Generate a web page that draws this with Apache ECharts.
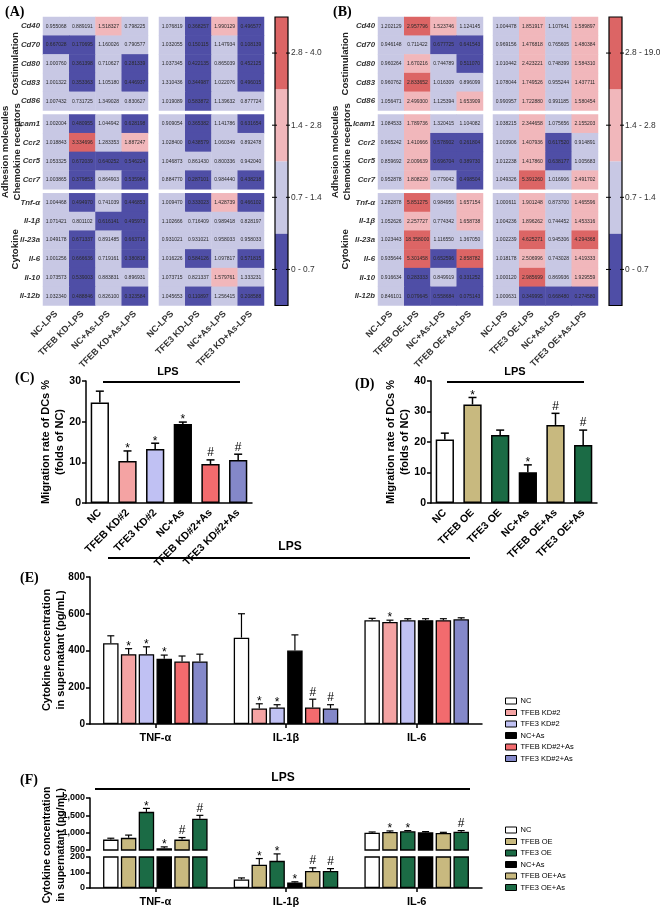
<!DOCTYPE html>
<html>
<head>
<meta charset="utf-8">
<script src="https://cdn.jsdelivr.net/npm/echarts@6/dist/echarts.min.js"></script>
<style>
html, body { margin: 0; padding: 0; background: #fff; }
#main { width: 660px; height: 922px; }
</style>
</head>
<body>
<div id="main"></div>
<script>
// heatmap rows and blocks
var geneRows = ['Cd40', 'Cd70', 'Cd80', 'Cd83', 'Cd86', 'Icam1', 'Ccr2', 'Ccr5', 'Ccr7',
    'Tnf-α', 'Il-1β', 'Il-23a', 'Il-6', 'Il-10', 'Il-12b'];
var geneBlocks = [5, 4, 6];
var blockNames = [['Costimulation'], ['Adhesion molecules', 'Chemokine receptors'], ['Cytokine']];

var colsTfebKd = ['NC-LPS', 'TFEB KD-LPS', 'NC+As-LPS', 'TFEB KD+As-LPS'];
var colsTfe3Kd = ['NC-LPS', 'TFE3 KD-LPS', 'NC+As-LPS', 'TFE3 KD+As-LPS'];
var colsTfebOe = ['NC-LPS', 'TFEB OE-LPS', 'NC+As-LPS', 'TFEB OE+As-LPS'];
var colsTfe3Oe = ['NC-LPS', 'TFE3 OE-LPS', 'NC+As-LPS', 'TFE3 OE+As-LPS'];

var heatTfebKd = [
    [0.955068, 0.889191, 1.518327, 0.798225],
    [0.667028, 0.170695, 1.160026, 0.790577],
    [1.000760, 0.361398, 0.710627, 0.281339],
    [1.001322, 0.353363, 1.105180, 0.446937],
    [1.007432, 0.731725, 1.349028, 0.830627],
    [1.002004, 0.480955, 1.044942, 0.628198],
    [1.018843, 3.334696, 1.283353, 1.887247],
    [1.053325, 0.672039, 0.640252, 0.546224],
    [1.003865, 0.379853, 0.864903, 0.535984],
    [1.004468, 0.494970, 0.741039, 0.446853],
    [1.071421, 0.801102, 0.616141, 0.495973],
    [1.049178, 0.671337, 0.891485, 0.663716],
    [1.001256, 0.666636, 0.719161, 0.380818],
    [1.073573, 0.539003, 0.883831, 0.896931],
    [1.032340, 0.488846, 0.826100, 0.323584]
];
var heatTfe3Kd = [
    [1.076819, 0.368257, 1.990129, 0.496577],
    [1.032055, 0.150115, 1.147934, 0.108139],
    [1.037345, 0.422135, 0.865039, 0.452125],
    [1.310436, 0.344987, 1.022076, 0.496015],
    [1.019089, 0.583872, 1.139632, 0.877724],
    [0.909054, 0.365382, 1.141786, 0.631654],
    [1.028400, 0.438579, 1.060349, 0.892478],
    [1.046873, 0.861430, 0.800336, 0.942040],
    [0.884770, 0.287101, 0.984440, 0.438218],
    [1.009470, 0.333023, 1.428739, 0.466102],
    [1.102666, 0.716409, 0.989418, 0.828197],
    [0.931021, 0.931021, 0.958033, 0.958033],
    [1.016226, 0.584126, 1.097817, 0.571815],
    [1.073715, 0.821337, 1.579761, 1.333231],
    [1.045653, 0.110897, 1.256415, 0.208588]
];
var heatTfebOe = [
    [1.202129, 2.957796, 1.523746, 1.124145],
    [0.946148, 0.711422, 0.677725, 0.641543],
    [0.960264, 1.670216, 0.744789, 0.511070],
    [0.960762, 2.833652, 1.016309, 0.896099],
    [1.056471, 2.499300, 1.125394, 1.653909],
    [1.084533, 1.789736, 1.320415, 1.104082],
    [0.965242, 1.410666, 0.578902, 0.261804],
    [0.859692, 2.009639, 0.696704, 0.389730],
    [0.952878, 1.808229, 0.779042, 0.498504],
    [1.282878, 5.851275, 0.984956, 1.657154],
    [1.052626, 2.257727, 0.774342, 1.658738],
    [1.023443, 18.358000, 1.116550, 1.367050],
    [0.935644, 5.301458, 0.652596, 2.858782],
    [0.916634, 0.283333, 0.849919, 0.331252],
    [0.846101, 0.079645, 0.558684, 0.075143]
];
var heatTfe3Oe = [
    [1.004478, 1.851917, 1.107641, 1.589897],
    [0.969156, 1.476818, 0.765605, 1.480384],
    [1.010442, 2.423221, 0.748399, 1.584310],
    [1.078044, 1.749526, 0.955244, 1.437711],
    [0.990957, 1.722880, 0.991185, 1.580454],
    [1.038215, 2.344658, 1.075656, 2.155203],
    [1.003906, 1.407936, 0.617520, 0.914891],
    [1.012238, 1.417860, 0.638177, 1.005683],
    [1.049326, 5.391260, 1.016906, 2.491702],
    [1.000611, 1.901248, 0.873700, 1.465596],
    [1.004236, 1.896262, 0.744452, 1.453316],
    [1.002239, 4.625271, 0.945306, 4.294368],
    [1.018178, 2.506996, 0.743028, 1.419333],
    [1.000120, 2.985699, 0.869936, 1.929559],
    [1.000631, 0.349995, 0.668480, 0.274580]
];
var binsKd = [0, 0.7, 1.4, 2.8, 4.0];
var binsOe = [0, 0.7, 1.4, 2.8, 19.0];
var binColors = ['#4f4ea6', '#c8c8e4', '#f1b7bb', '#dc6565'];

// migration (C, D)
var migKdCats = ['NC', 'TFEB KD#2', 'TFE3 KD#2', 'NC+As', 'TFEB KD#2+As', 'TFE3 KD#2+As'];
var migKdMean = [24.7, 10.3, 13.3, 19.4, 9.6, 10.6];
var migKdErr = [2.8, 2.5, 1.4, 0.5, 1.0, 1.4];
var migKdMarks = ['', '*', '*', '*', '#', '#'];
var kdColors = ['#ffffff', '#f4a3a3', '#c0c1f3', '#000000', '#f26b6e', '#8488c9'];

var migOeCats = ['NC', 'TFEB OE', 'TFE3 OE', 'NC+As', 'TFEB OE+As', 'TFE3 OE+As'];
var migOeMean = [20.8, 32.3, 22.3, 10.1, 25.6, 19.0];
var migOeErr = [2.1, 2.3, 1.6, 2.4, 3.8, 4.9];
var migOeMarks = ['', '*', '', '*', '#', '#'];
var oeColors = ['#ffffff', '#c8b97f', '#1b6b45', '#000000', '#c8b97f', '#1b6b45'];

// cytokines (E, F): one row per group, columns TNF-α, IL-1β, IL-6
var cytoCats = ['TNF-α', 'IL-1β', 'IL-6'];
var cytoKdMean = [[440, 470, 565], [380, 85, 555], [380, 90, 565], [355, 400, 565], [340, 90, 565], [340, 85, 570]];
var cytoKdErr = [[40, 130, 10], [30, 25, 10], [40, 15, 8], [20, 85, 8], [30, 45, 8], [40, 20, 8]];
var cytoKdMarks = [['', '', ''], ['*', '*', '*'], ['*', '*', ''], ['*', '', ''], ['', '#', ''], ['', '#', '']];

var cytoOeMean = [[800, 55, 1000], [850, 150, 1020], [1600, 175, 1040], [550, 35, 1010], [800, 110, 990], [1400, 110, 1030]];
var cytoOeErr = [[40, 10, 20], [80, 40, 30], [100, 45, 20], [40, 5, 20], [60, 20, 20], [100, 15, 30]];
var cytoOeMarks = [['', '', ''], ['', '*', '*'], ['*', '*', '*'], ['*', '*', ''], ['#', '#', ''], ['#', '#', '#']];

var FONT = '"Liberation Sans", Arial, sans-serif';
var SERIF = 'bold 14px "Liberation Serif", serif';
var chart = echarts.init(document.getElementById('main'));
var option = {
    animation: false,
    textStyle: { fontFamily: FONT },
    grid: [], xAxis: [], yAxis: [], series: [], visualMap: [], legend: [], graphic: []
};

function txt(x, y, s, font, opts) {
    opts = opts || {};
    option.graphic.push({
        type: 'text', x: x, y: y, rotation: opts.rot || 0, z: 50,
        style: { text: s, font: font, fill: opts.fill || '#000', align: opts.align || 'center', verticalAlign: opts.va || 'middle' }
    });
}
function line(x1, y1, x2, y2, w) {
    option.graphic.push({ type: 'line', z: 50, shape: { x1: x1, y1: y1, x2: x2, y2: y2 }, style: { stroke: '#000', lineWidth: w || 1 } });
}

// ---------- heatmaps ----------
var rowH = 18.7, blockGap = 4, heatTop = 17;
var blockTops = [];
(function () {
    var t = heatTop;
    geneBlocks.forEach(function (n) { blockTops.push(t); t += n * rowH + blockGap; });
})();
var heatBottom = blockTops[2] + geneBlocks[2] * rowH;

function addHeat(left, cols, vals, showRows, seriesList) {
    var start = 0;
    geneBlocks.forEach(function (cnt, b) {
        var gi = option.grid.length;
        option.grid.push({ left: left, top: blockTops[b], width: 105, height: cnt * rowH });
        option.xAxis.push({
            type: 'category', gridIndex: gi, data: cols,
            axisLine: { show: false }, axisTick: { show: false }, splitLine: { show: false },
            axisLabel: { show: b === geneBlocks.length - 1, rotate: 45, interval: 0, margin: 7,
                fontSize: 9, fontWeight: 'bold', color: '#333' }
        });
        option.yAxis.push({
            type: 'category', gridIndex: gi, inverse: true, data: geneRows.slice(start, start + cnt),
            axisLine: { show: false }, axisTick: { show: false }, splitLine: { show: false },
            axisLabel: { show: showRows, margin: 3, fontSize: 7.8, fontWeight: 'bold', fontStyle: 'italic', color: '#333' }
        });
        var data = [];
        for (var r = 0; r < cnt; r++) {
            for (var c = 0; c < cols.length; c++) data.push([c, r, vals[start + r][c]]);
        }
        seriesList.push(option.series.length);
        option.series.push({
            type: 'heatmap', xAxisIndex: gi, yAxisIndex: gi, data: data,
            label: { show: true, fontSize: 5, color: '#2a2a2a', formatter: function (p) { return p.value[2].toFixed(6); } },
            emphasis: { disabled: true }
        });
        start += cnt;
    });
}

function fmtBin(v) { return v === 0 ? '0' : v.toFixed(1); }
// colour key: pieces map values to colours, the key itself is drawn next to the heatmaps
function addScale(left, bins, seriesList) {
    var pieces = [];
    for (var i = 0; i < bins.length - 1; i++) {
        pieces.push({ min: bins[i], max: bins[i + 1], label: fmtBin(bins[i]) + ' - ' + fmtBin(bins[i + 1]), color: binColors[i] });
    }
    option.visualMap.push({ type: 'piecewise', show: false, seriesIndex: seriesList, pieces: pieces });
    var segH = (heatBottom - heatTop) / pieces.length;
    for (var k = 0; k < pieces.length; k++) {
        var y0 = heatBottom - segH * (k + 1);
        option.graphic.push({ type: 'rect', z: 40, shape: { x: left, y: y0, width: 13, height: segH },
            style: { fill: pieces[k].color, stroke: null } });
        var yy = y0 + segH / 2;
        line(left - 3, yy, left + 2, yy, 1);
        line(left + 11, yy, left + 15, yy, 1);
        txt(left + 16, yy, pieces[k].label, '8.4px ' + FONT, { align: 'left', fill: '#333' });
    }
    option.graphic.push({ type: 'rect', z: 45, shape: { x: left, y: heatTop, width: 13, height: heatBottom - heatTop },
        style: { fill: 'none', stroke: '#000', lineWidth: 1.2 } });
}

function addGroupLabels(x0) {
    geneBlocks.forEach(function (cnt, b) {
        var cy = blockTops[b] + cnt * rowH / 2;
        var names = blockNames[b];
        names.forEach(function (nm, k) {
            var x = names.length === 1 ? x0 + 15 : x0 + 5 + k * 12;
            txt(x, cy, nm, 'bold 9.5px ' + FONT, { rot: Math.PI / 2, fill: '#222' });
        });
    });
}

var vmKd = [], vmOe = [];
addHeat(43, colsTfebKd, heatTfebKd, true, vmKd);
addHeat(159, colsTfe3Kd, heatTfe3Kd, false, vmKd);
addHeat(378, colsTfebOe, heatTfebOe, true, vmOe);
addHeat(493, colsTfe3Oe, heatTfe3Oe, false, vmOe);
addScale(275, binsKd, vmKd);
addScale(609, binsOe, vmOe);
addGroupLabels(0);
addGroupLabels(330);
txt(5, 12, '(A)', SERIF, { align: 'left' });
txt(333, 12, '(B)', SERIF, { align: 'left' });

// ---------- simple bar panels ----------
function markOffset(m) { return m === '*' ? 5 : 0; }

function addMigration(left, width, cats, means, errs, marks, colors, ymax) {
    var gi = option.grid.length;
    option.grid.push({ left: left, top: 381, width: width, height: 122 });
    option.xAxis.push({
        type: 'category', gridIndex: gi, data: cats,
        axisLine: { lineStyle: { color: '#000', width: 1.5 } },
        axisTick: { alignWithLabel: true, length: 4, lineStyle: { color: '#000', width: 1.5 } },
        axisLabel: { rotate: 45, interval: 0, margin: 8, fontSize: 10.5, fontWeight: 'bold', color: '#000' }
    });
    option.yAxis.push({
        type: 'value', gridIndex: gi, min: 0, max: ymax, interval: 10,
        splitLine: { show: false },
        axisLine: { show: true, lineStyle: { color: '#000', width: 1.5 } },
        axisTick: { show: true, length: 4, lineStyle: { color: '#000', width: 1.5 } },
        axisLabel: { fontSize: 10.5, fontWeight: 'bold', color: '#000', margin: 5 }
    });
    option.series.push({
        type: 'bar', xAxisIndex: gi, yAxisIndex: gi, barCategoryGap: '34%',
        data: means.map(function (v, i) {
            return { value: v, itemStyle: { color: colors[i], borderColor: '#000', borderWidth: 1.5 } };
        })
    });
    option.series.push({
        type: 'custom', xAxisIndex: gi, yAxisIndex: gi, z: 5,
        data: means.map(function (v, i) { return [i, v]; }),
        renderItem: function (params, api) {
            var i = params.dataIndex;
            var b = api.coord([i, means[i]]), t = api.coord([i, means[i] + errs[i]]);
            var ch = [
                { type: 'line', shape: { x1: b[0], y1: b[1], x2: t[0], y2: t[1] }, style: { stroke: '#000', lineWidth: 1.5 } },
                { type: 'line', shape: { x1: t[0] - 4, y1: t[1], x2: t[0] + 4, y2: t[1] }, style: { stroke: '#000', lineWidth: 1.5 } }
            ];
            if (marks[i]) ch.push({ type: 'text', x: t[0], y: t[1] - 1 + markOffset(marks[i]),
                style: { text: marks[i], fill: '#000', font: '12px ' + FONT, align: 'center', verticalAlign: 'bottom' } });
            return { type: 'group', children: ch };
        }
    });
}

addMigration(86, 166, migKdCats, migKdMean, migKdErr, migKdMarks, kdColors, 30);
addMigration(431, 166, migOeCats, migOeMean, migOeErr, migOeMarks, oeColors, 40);
txt(15, 378, '(C)', SERIF, { align: 'left' });
txt(355, 384, '(D)', SERIF, { align: 'left' });
txt(46, 442, 'Migration rate of DCs %', 'bold 11px ' + FONT, { rot: Math.PI / 2 });
txt(60, 442, '(folds of NC)', 'bold 11px ' + FONT, { rot: Math.PI / 2 });
txt(391, 442, 'Migration rate of DCs %', 'bold 11px ' + FONT, { rot: Math.PI / 2 });
txt(405, 442, '(folds of NC)', 'bold 11px ' + FONT, { rot: Math.PI / 2 });
line(103, 382, 240, 382, 2); txt(168, 377, 'LPS', 'bold 11px ' + FONT, { va: 'bottom' });
line(447, 382, 584, 382, 2); txt(515, 377, 'LPS', 'bold 11px ' + FONT, { va: 'bottom' });

// ---------- grouped cytokine panels ----------
var catGap = 0.2, barGap = 0.15;

function groupErrSeries(gi, means, errs, marks, keep) {
    var n = means.length, data = [];
    for (var s = 0; s < n; s++) {
        for (var c = 0; c < cytoCats.length; c++) {
            if (keep(means[s][c])) data.push([c, means[s][c], s]);
        }
    }
    option.series.push({
        type: 'custom', xAxisIndex: gi, yAxisIndex: gi, z: 5, data: data,
        renderItem: function (params, api) {
            var d = data[params.dataIndex];
            var c = d[0], s = d[2], v = means[s][c], e = errs[s][c];
            var band = api.size([1, 0])[0];
            var bw = band * (1 - catGap) / (n + (n - 1) * barGap);
            var off = -band * (1 - catGap) / 2 + bw / 2 + s * bw * (1 + barGap);
            var b = api.coord([c, v]), t = api.coord([c, v + e]);
            var x = b[0] + off;
            var ch = [
                { type: 'line', shape: { x1: x, y1: b[1], x2: x, y2: t[1] }, style: { stroke: '#000', lineWidth: 1.2 } },
                { type: 'line', shape: { x1: x - 3.5, y1: t[1], x2: x + 3.5, y2: t[1] }, style: { stroke: '#000', lineWidth: 1.2 } }
            ];
            var m = marks[s][c];
            if (m) ch.push({ type: 'text', x: x, y: t[1] - 1 + markOffset(m),
                style: { text: m, fill: '#000', font: '12px ' + FONT, align: 'center', verticalAlign: 'bottom' } });
            return { type: 'group', children: ch };
        }
    });
}

function addCytoGrid(top, height, ymin, ymax, interval, showX, names, means, colors, labelSize) {
    var gi = option.grid.length;
    option.grid.push({ left: 90, top: top, width: 392, height: height });
    option.xAxis.push({
        type: 'category', gridIndex: gi, data: cytoCats,
        axisLine: { show: showX, lineStyle: { color: '#000', width: 1.5 } },
        axisTick: { show: showX, alignWithLabel: true, length: 4, lineStyle: { color: '#000', width: 1.5 } },
        axisLabel: { show: showX, fontSize: 11, fontWeight: 'bold', color: '#000', margin: 8 }
    });
    option.yAxis.push({
        type: 'value', gridIndex: gi, min: ymin, max: ymax, interval: interval,
        splitLine: { show: false },
        axisLine: { show: true, lineStyle: { color: '#000', width: 1.5 } },
        axisTick: { show: true, length: 4, lineStyle: { color: '#000', width: 1.5 } },
        axisLabel: { fontSize: labelSize, fontWeight: 'bold', color: '#000', margin: 5 }
    });
    for (var s = 0; s < names.length; s++) {
        option.series.push({
            type: 'bar', name: names[s], xAxisIndex: gi, yAxisIndex: gi,
            barCategoryGap: (catGap * 100) + '%', barGap: (barGap * 100) + '%',
            itemStyle: { color: colors[s], borderColor: '#000', borderWidth: 1.3 },
            data: means[s]
        });
    }
    return gi;
}

// E
var gE = addCytoGrid(577, 147, 0, 800, 200, true, migKdCats, cytoKdMean, kdColors, 10);
groupErrSeries(gE, cytoKdMean, cytoKdErr, cytoKdMarks, function () { return true; });
// F (broken axis)
var lowMax = 200;
var gFu = addCytoGrid(798, 52, 500, 2000, 500, false, migOeCats, cytoOeMean, oeColors, 9);
groupErrSeries(gFu, cytoOeMean, cytoOeErr, cytoOeMarks, function (v) { return v > lowMax; });
var gFl = addCytoGrid(857, 31, 0, lowMax, 100, true, migOeCats, cytoOeMean, oeColors, 9);
groupErrSeries(gFl, cytoOeMean, cytoOeErr, cytoOeMarks, function (v) { return v <= lowMax; });

function addLegend(top, names) {
    option.legend.push({
        data: names, orient: 'vertical', left: 505, top: top, padding: 0,
        itemWidth: 11, itemHeight: 6, itemGap: 3.5, icon: 'rect', selectedMode: false,
        itemStyle: { borderColor: '#000', borderWidth: 1 },
        textStyle: { fontSize: 7.5, color: '#000', padding: [0, 0, 0, -1] }
    });
}
addLegend(697, migKdCats);
addLegend(826, migOeCats);

txt(20, 578, '(E)', SERIF, { align: 'left' });
txt(20, 780, '(F)', SERIF, { align: 'left' });
txt(47, 650, 'Cytokine concentration', 'bold 11px ' + FONT, { rot: Math.PI / 2 });
txt(61, 650, 'in supernatant (pg/mL)', 'bold 11px ' + FONT, { rot: Math.PI / 2 });
txt(47, 845, 'Cytokine concentration', 'bold 10.5px ' + FONT, { rot: Math.PI / 2 });
txt(61, 845, 'in supernatant (pg/mL)', 'bold 10.5px ' + FONT, { rot: Math.PI / 2 });
line(108, 558, 470, 558, 2); txt(290, 553, 'LPS', 'bold 12px ' + FONT, { va: 'bottom' });
line(95, 789, 470, 789, 2); txt(283, 784, 'LPS', 'bold 12px ' + FONT, { va: 'bottom' });

chart.setOption(option);
</script>
</body>
</html>
